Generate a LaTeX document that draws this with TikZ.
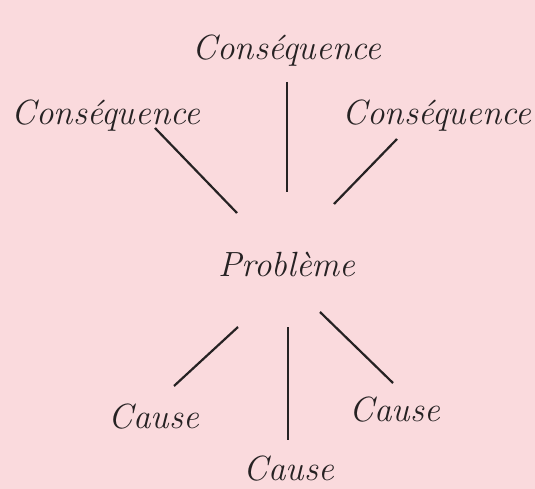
\documentclass[tikz,border=0pt]{standalone}
\usepackage{fontspec}
\definecolor{bgpink}{RGB}{250,218,221}
\definecolor{ink}{RGB}{38,34,35}
\tikzset{
  lbl/.style={anchor=base, inner sep=0pt, text=ink, font=\fontsize{35}{40}\selectfont\itshape},
  conn/.style={draw=ink, line width=2.2pt}
}
\begin{document}
\begin{tikzpicture}[x=1pt,y=-1pt]
\fill[bgpink] (0,0) rectangle (535,489);
\useasboundingbox (0,0) rectangle (535,489);
% labels
\node[lbl] (ctop) at (287,60) {Conséquence};
\node[lbl] (cleft) at (106,125) {Conséquence};
\node[lbl] (cright) at (437,125) {Conséquence};
\node[lbl] (prob) at (287,276) {Problème};
\node[lbl] (kleft) at (154,428) {Cause};
\node[lbl] (kright) at (395,421) {Cause};
\node[lbl] (kbot) at (289,480) {Cause};
% connector end points
\coordinate (a1) at (287,82);  \coordinate (a2) at (287,192);
\coordinate (b1) at (155,128); \coordinate (b2) at (237,213);
\coordinate (d1) at (397,139); \coordinate (d2) at (334,204);
\coordinate (e1) at (238,327); \coordinate (e2) at (174,386);
\coordinate (f1) at (288,327); \coordinate (f2) at (288,440);
\coordinate (g1) at (320,312); \coordinate (g2) at (393,383);
\draw[conn] (a1) -- (a2);
\draw[conn] (b1) -- (b2);
\draw[conn] (d1) -- (d2);
\draw[conn] (e1) -- (e2);
\draw[conn] (f1) -- (f2);
\draw[conn] (g1) -- (g2);
\end{tikzpicture}
\end{document}
